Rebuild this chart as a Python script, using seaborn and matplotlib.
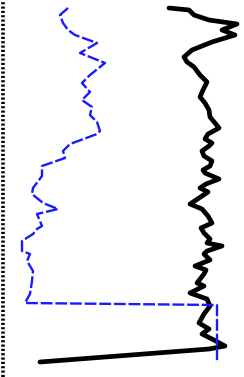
import numpy as np
import matplotlib
matplotlib.use("Agg")
import matplotlib.pyplot as plt
import seaborn as sns

# black log (value vs depth)
black_depth = [8, 10, 15, 20, 24, 30, 35, 42, 50, 57, 62, 67, 75, 82, 90, 97, 103, 110, 117, 123,
               128, 134, 139, 143, 146, 151, 156, 161, 166, 170, 173, 179, 184, 188, 192, 196, 200, 204,
               209, 216, 223, 228, 233, 239, 243, 246, 251,
               254, 260, 266, 270, 274, 283, 286, 293, 299, 306, 314, 323, 329, 334, 339, 346, 349, 362]
black_val = [169, 189, 194, 209, 237, 222, 235, 212, 192, 184, 187, 194, 200, 207, 203, 200, 205, 209, 210, 215,
             219, 208, 205, 212, 209, 202, 204, 212, 210, 203, 205, 219, 206, 200, 208, 202, 196, 190,
             202, 208, 212, 201, 204, 210, 207, 222, 207,
             204, 210, 195, 206, 204, 197, 204, 190, 207, 210, 204, 199, 209, 202, 212, 225, 209, 40]

# blue log (dashed)
blue_depth = [8, 15, 23, 30, 35, 43, 53, 63, 75, 83, 92, 100, 107, 115, 122,
              131, 134, 144, 151, 158, 166, 176, 188, 194, 203, 209, 214, 226, 229, 234, 241, 251,
              254, 261, 271, 281, 294, 303, 305, 362]
blue_val = [68, 60, 63, 68, 75, 97, 80, 105, 90, 82, 90, 82, 92, 90, 97,
            100, 97, 70, 63, 65, 42, 42, 33, 32, 43, 58, 37, 42, 37, 33, 22, 22,
            30, 27, 33, 32, 30, 25, 217, 217]

sns.set_style("white")

fig = plt.figure(figsize=(2.44, 3.77), dpi=100)
ax = fig.add_axes([0, 0, 1, 1])

sns.lineplot(x=black_val, y=black_depth, sort=False, estimator=None, ax=ax,
             color="black", linewidth=3.4)
sns.lineplot(x=blue_val, y=blue_depth, sort=False, estimator=None, ax=ax,
             color="#1a1aff", linewidth=1.7, linestyle=(0, (5, 1.2)))

ax.axvline(3, color="black", linewidth=2.6, linestyle=(0, (0.6, 0.6)))

ax.set_xlim(0, 244)
ax.set_ylim(377, 0)
ax.set_xticks([])
ax.set_yticks([])
for s in ax.spines.values():
    s.set_visible(False)

fig.savefig("out.png", dpi=100)
